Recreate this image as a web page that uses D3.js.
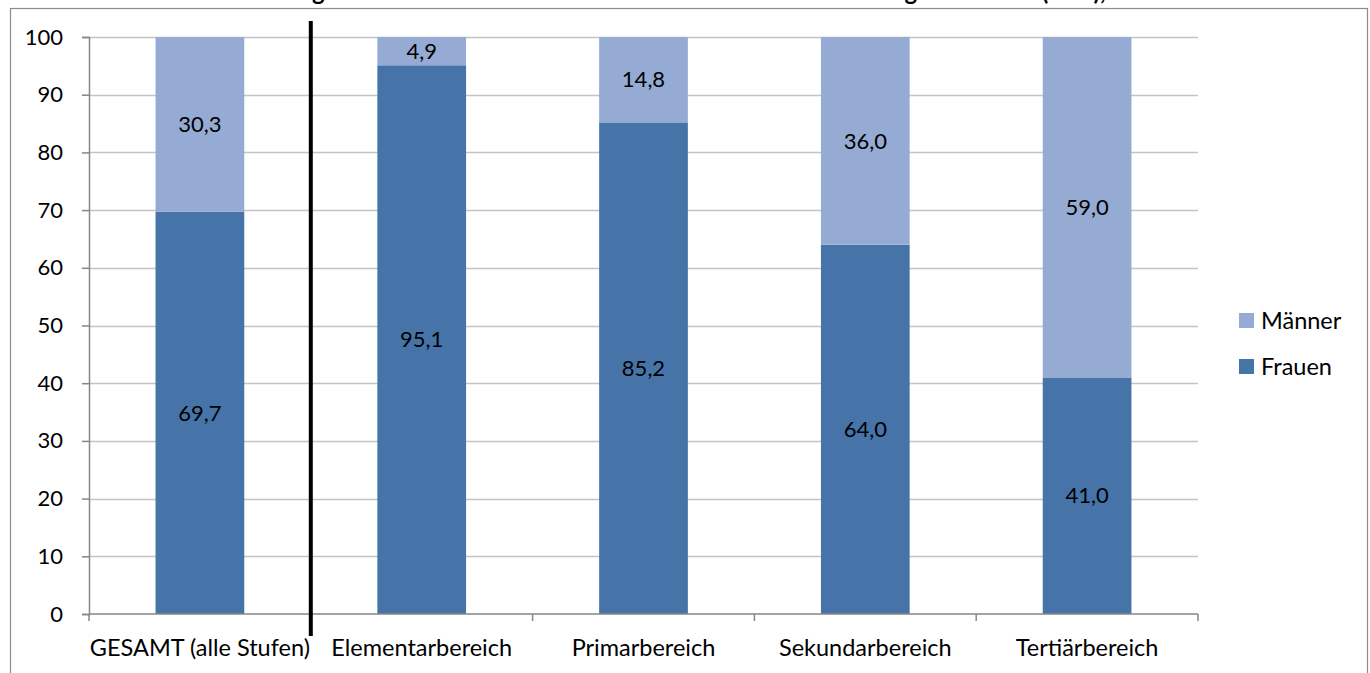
<!DOCTYPE html>
<html><head><meta charset="utf-8">
<script src="https://cdn.jsdelivr.net/npm/d3@7"></script>
<style>
html,body{margin:0;padding:0;background:#fff;overflow:hidden}
text{font-family:Lato,"Open Sans",sans-serif;fill:#000}
</style></head>
<body>
<svg id="c" width="1370" height="673"></svg>
<script>
const title = "Verteilung der Lehrkräfte nach Geschlecht in den einzelnen Bildungsbereichen (in %), 2011";
const categories = ["GESAMT (alle Stufen)", "Elementarbereich", "Primarbereich", "Sekundarbereich", "Tertiärbereich"];
const frauen = [69.7, 95.1, 85.2, 64.0, 41.0];
const maenner = [30.3, 4.9, 14.8, 36.0, 59.0];
const seriesNames = ["Männer", "Frauen"];
const yTicks = [0, 10, 20, 30, 40, 50, 60, 70, 80, 90, 100];

const colors = {Frauen: "#4674A8", "Männer": "#95ABD3"};
const fsNum = 22, fsTxt = 23.5;
const svg = d3.select("#c");
const margin = {left: 89, right: 1198, top: 37, bottom: 614};

// outer frame
svg.append("rect").attr("x", 10.5).attr("y", 8.5).attr("width", 1357).attr("height", 700)
  .attr("fill", "none").attr("stroke", "#8c8c8c").attr("stroke-width", 1.2);

// title (mostly cut off above the frame, as in the reference)
const t = svg.append("text").attr("x", 0).attr("y", 0).attr("text-anchor", "start")
  .attr("font-weight", "bold").attr("font-size", 24).text(title);
(function fitTitle() {
  const node = t.node();
  const i1 = title.indexOf("g"), i2 = title.indexOf("g", i1 + 1), i3 = title.indexOf("(");
  const n1 = node.getStartPositionOfChar(i1).x, n2 = node.getStartPositionOfChar(i2).x, n3 = node.getStartPositionOfChar(i3).x;
  const T1 = 312, T2 = 904, T3 = 1041;
  const e1 = ((T2 - T1) - (n2 - n1)) / (i2 - i1);
  const e2 = ((T3 - T2) - (n3 - n2)) / (i3 - i2);
  const dx = [];
  for (let k = 0; k < title.length; k++) {
    if (k === 0) dx.push(T1 - n1);
    else if (k > i1 && k <= i2) dx.push(e1);
    else if (k > i2 && k <= i3) dx.push(e2);
    else dx.push(0);
  }
  t.attr("dx", dx.map(v => v.toFixed(2)).join(" "));
})();

const x = d3.scaleBand().domain(categories).range([margin.left, margin.right]).paddingInner(0).paddingOuter(0);
const y = d3.scaleLinear().domain([0, 100]).range([margin.bottom, margin.top]);
const barW = x.bandwidth() * 0.4;

// gridlines
svg.append("g").selectAll("line").data(yTicks.filter(d => d > 0)).join("line")
  .attr("x1", margin.left).attr("x2", margin.right)
  .attr("y1", d => Math.round(y(d)) + 0.5).attr("y2", d => Math.round(y(d)) + 0.5)
  .attr("stroke", "#c4c4c4").attr("stroke-width", 1.3);

// bars
const rows = categories.map((c, i) => ({c, Frauen: frauen[i], "Männer": maenner[i]}));
const stack = d3.stack().keys(["Frauen", "Männer"])(rows);
const g = svg.append("g");
stack.forEach(s => {
  g.selectAll(null).data(s).join("rect")
    .attr("x", d => x(d.data.c) + (x.bandwidth() - barW) / 2)
    .attr("width", barW)
    .attr("y", d => y(d[1]))
    .attr("height", d => y(d[0]) - y(d[1]))
    .attr("fill", colors[s.key]);
  g.selectAll(null).data(s).join("text")
    .attr("x", d => x(d.data.c) + x.bandwidth() / 2)
    .attr("y", d => (y(d[0]) + y(d[1])) / 2)
    .attr("dy", "0.35em").attr("text-anchor", "middle").attr("font-size", fsNum)
    .text(d => d3.format(".1f")(d.data[s.key]).replace(".", ","));
});

// y axis
const yAxis = d3.axisLeft(y).tickValues(yTicks).tickSize(7).tickPadding(19).tickFormat(d3.format("d"));
const ya = svg.append("g").attr("transform", `translate(${margin.left},0)`).call(yAxis);
ya.select(".domain").attr("stroke", "#868686").attr("stroke-width", 1.5);
ya.selectAll(".tick line").attr("stroke", "#868686").attr("stroke-width", 1.5);
ya.selectAll(".tick text").attr("font-size", fsNum).attr("font-family", "Lato").attr("fill", "#000");

// x axis
const xa = svg.append("g").attr("transform", `translate(0,${margin.bottom})`);
xa.append("line").attr("x1", margin.left).attr("x2", margin.right).attr("y1", 0).attr("y2", 0)
  .attr("stroke", "#868686").attr("stroke-width", 1.5);
const bounds = categories.map(c => x(c)).concat([x(categories[categories.length - 1]) + x.bandwidth()]);
xa.selectAll(".xt").data(bounds).join("line").attr("class", "xt")
  .attr("x1", d => d).attr("x2", d => d).attr("y1", 0).attr("y2", 7)
  .attr("stroke", "#868686").attr("stroke-width", 1.5);
xa.selectAll(".xl").data(categories).join("text").attr("class", "xl")
  .attr("x", d => x(d) + x.bandwidth() / 2).attr("y", 42)
  .attr("text-anchor", "middle").attr("font-size", fsTxt).text(d => d);

// black separator after GESAMT
const sepX = x(categories[1]);
svg.append("line").attr("x1", sepX).attr("x2", sepX)
  .attr("y1", y(100) - 16).attr("y2", y(0) + 22)
  .attr("stroke", "#000").attr("stroke-width", 4);

// legend
const lg = svg.append("g").attr("transform", "translate(1239,313)");
seriesNames.forEach((n, i) => {
  lg.append("rect").attr("x", 0).attr("y", i * 46).attr("width", 15).attr("height", 15).attr("fill", colors[n]);
  lg.append("text").attr("x", 22).attr("y", i * 46 + 7.5).attr("dy", "0.35em").attr("font-size", fsTxt).text(n);
});
</script>
</body></html>
